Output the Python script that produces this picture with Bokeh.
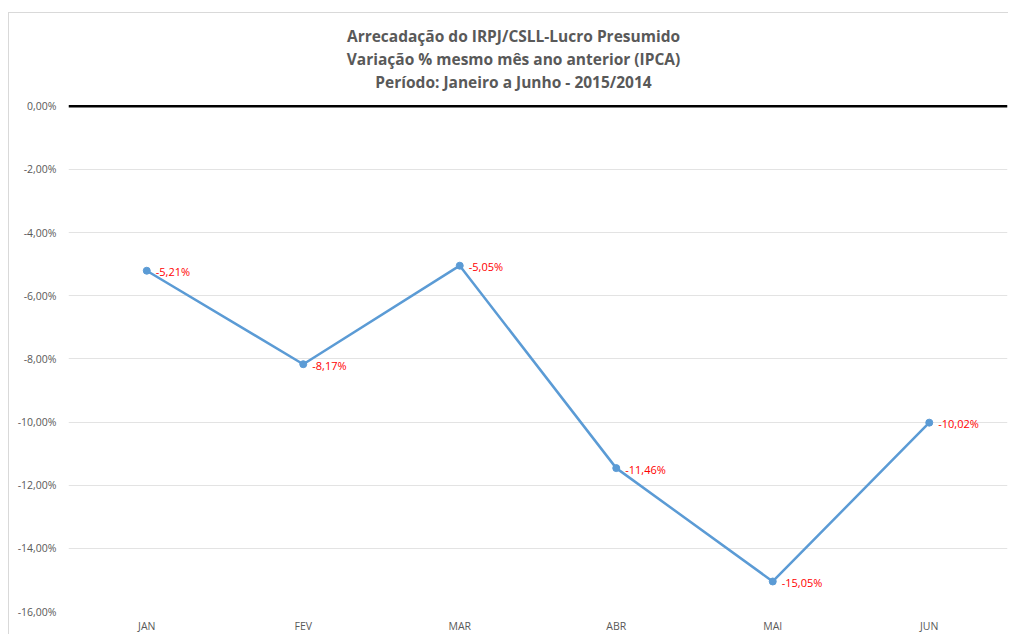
from bokeh.plotting import figure
from bokeh.models import Range1d, FixedTicker, Span, Label, ColumnDataSource, LabelSet
from bokeh.core.properties import value
from bokeh.embed import file_html
from bokeh.resources import INLINE

months = ["JAN", "FEV", "MAR", "ABR", "MAI", "JUN"]
values = [-5.21, -8.17, -5.05, -11.46, -15.05, -10.02]
y_ticks = [0, -2, -4, -6, -8, -10, -12, -14, -16]
title_lines = [
    "Arrecadação do IRPJ/CSLL-Lucro Presumido",
    "Variação % mesmo mês ano anterior (IPCA)",
    "Período: Janeiro a Junho - 2015/2014",
]

def pct(v):
    return f"{v:.2f}".replace(".", ",") + "%"

src = ColumnDataSource(dict(x=months, y=values, lab=[pct(v) for v in values]))

# figure placed at page (8, 12) with a 1px border; frame spans from its top down to the axis
OX, OY = 8, 12
px_per_unit = (613 - 106) / 16.0
y_top = (106 - OY - 1) / px_per_unit

p = figure(width=1010 - OX - 2, height=636 - OY - 2, x_range=months, y_range=Range1d(-16, y_top),
           output_backend="svg", toolbar_location=None, margin=(OY, 0, 0, OX),
           min_border_left=68 - OX - 1, min_border_right=2, min_border_top=0, min_border_bottom=22,
           styles={"border-left": "1px solid #d9d9d9", "border-top": "1px solid #d9d9d9"})
p.outline_line_color = None
p.background_fill_color = "white"
p.border_fill_color = "white"

p.ygrid.grid_line_color = "#e3e3e3"
p.ygrid.grid_line_width = 1
p.xgrid.grid_line_color = None

p.yaxis.ticker = FixedTicker(ticks=y_ticks)
p.yaxis.major_label_overrides = {t: pct(t) for t in y_ticks}
p.yaxis.axis_line_color = None
p.yaxis.major_tick_line_color = None
p.yaxis.minor_tick_line_color = None
p.yaxis.major_label_standoff = 6
p.yaxis.major_label_text_font = "Open Sans"
p.yaxis.major_label_text_font_size = "10.5px"
p.yaxis.major_label_text_color = "#595959"

p.xaxis.axis_line_color = None
p.xaxis.major_tick_line_color = None
p.xaxis.minor_tick_line_color = None
p.xaxis.major_label_standoff = 1
p.xaxis.major_label_text_font = "Open Sans"
p.xaxis.major_label_text_font_size = "10.5px"
p.xaxis.major_label_text_color = "#595959"

p.add_layout(Span(location=0, dimension="width", line_color="black", line_width=2.5))

p.line("x", "y", source=src, line_color="#5b9bd5", line_width=2.5)
p.scatter("x", "y", source=src, size=7, fill_color="#5b9bd5", line_color="#5b9bd5")

labels = LabelSet(x="x", y="y", text="lab", source=src, x_offset=9, y_offset=-1,
                  text_baseline="middle", text_align="left", text_color="#ff0000",
                  text_font=value("Open Sans"), text_font_size="11px")
p.add_layout(labels)

for i, t in enumerate(title_lines):
    ypix = 36 + 23 * i
    p.add_layout(Label(x=445, y=(106 - ypix) / px_per_unit,
                       x_units="screen", y_units="data",
                       text=t, text_align="center", text_baseline="middle",
                       text_font="Open Sans", text_font_style="bold",
                       text_font_size="15.5px", text_color="#595959"))

open("out.html", "w").write(file_html(p, INLINE))
